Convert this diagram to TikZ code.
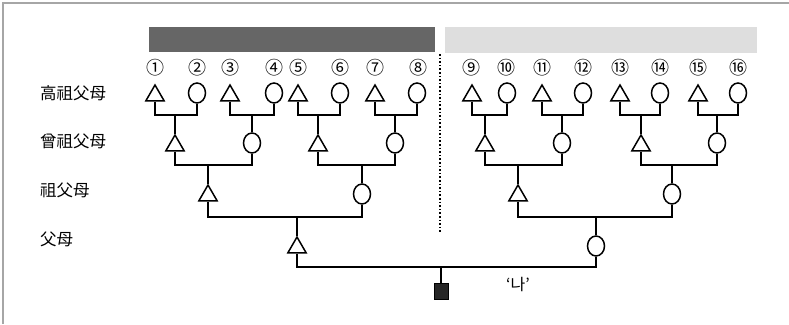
\documentclass[tikz,border=0pt]{standalone}
\usepackage{fontspec}
\setmainfont{Noto Sans CJK KR}
\usetikzlibrary{shapes.geometric}

\begin{document}
\begin{tikzpicture}[x=1pt, y=-1pt,
  line/.style={black, line width=1.5pt},
  male/.style={draw, line width=1.5pt, regular polygon, regular polygon sides=3,
    minimum size=21pt, inner sep=0pt},
  female/.style={draw, line width=1.5pt, ellipse, minimum width=17pt,
    minimum height=20pt, inner sep=0pt},
  ego/.style={draw, fill=black!85, line width=1pt, minimum width=14pt,
    minimum height=16pt, inner sep=0pt},
  num/.style={font=\fontsize{18}{18}\selectfont, inner sep=0pt},
  gen/.style={anchor=west, font=\fontsize{16.5}{16.5}\selectfont, inner sep=0pt}]
\useasboundingbox (0,0) rectangle (789,324);
% frame
\draw[gray!70, line width=1.5pt] (3,324) -- (3,3) -- (789,3);
% shaded bars
\fill[black!60] (149,27) rectangle (435,52);
\fill[black!13] (445,27) rectangle (757,53);
% demarcation line
\draw[line width=1.6pt, dotted] (440,54) -- (440,233);
% generation labels
\node[gen] (l4) at (40,93) {高祖父母};
\node[gen] (l3) at (40,141) {曾祖父母};
\node[gen] (l2) at (40,190) {祖父母};
\node[gen] (l1) at (40,239) {父母};
% bar levels
\coordinate (b4) at (0,115);
\coordinate (b3) at (0,165);
\coordinate (b2) at (0,217);
\coordinate (b1) at (0,267);
% great-great-grandparents
\foreach \n/\x in {1/155,3/230,5/298,7/375,9/472,11/542,13/620,15/698}
  \node[male] (g\n) at (\x,95.5) {};
\foreach \n/\x in {2/197,4/274,6/340,8/417,10/507,12/583,14/660,16/738}
  \node[female] (g\n) at (\x,93) {};
\foreach \n/\x/\lbl in {1/155/①,2/197/②,3/230/③,4/274/④,5/298/⑤,6/340/⑥,
    7/375/⑦,8/418/⑧,9/471/⑨,10/506/⑩,11/542/⑪,12/583/⑫,13/620/⑬,
    14/660/⑭,15/698/⑮,16/738/⑯}
  \node[num] (n\n) at (\x,68) {\lbl};
% great-grandparents
\foreach \n/\x in {1/175,3/318,5/485,7/641}
  \node[male] (h\n) at (\x,145.5) {};
\foreach \n/\x in {2/252,4/395,6/562,8/717}
  \node[female] (h\n) at (\x,143) {};
% grandparents
\node[male] (p1) at (208,195.5) {};
\node[female] (p2) at (362,194) {};
\node[male] (p3) at (518,195.5) {};
\node[female] (p4) at (672,194) {};
% parents and self
\node[male] (f1) at (297,247.5) {};
\node[female] (f2) at (596,246) {};
\node[ego] (me) at (441,291) {};
\node[font=\fontsize{16}{16}\selectfont] (na) at (518,284) {‘나’};
% couples and descent lines
\foreach \f/\m/\c/\b in {g1/g2/h1/b4, g3/g4/h2/b4, g5/g6/h3/b4, g7/g8/h4/b4,
    g9/g10/h5/b4, g11/g12/h6/b4, g13/g14/h7/b4, g15/g16/h8/b4,
    h1/h2/p1/b3, h3/h4/p2/b3, h5/h6/p3/b3, h7/h8/p4/b3,
    p1/p2/f1/b2, p3/p4/f2/b2, f1/f2/me/b1}{
  \draw[line] (\f.south) -- (\f.south |- \b) -- (\m.south |- \b) -- (\m.south);
  \draw[line] (\c.north) -- (\c.north |- \b);
}
\end{tikzpicture}
\end{document}
